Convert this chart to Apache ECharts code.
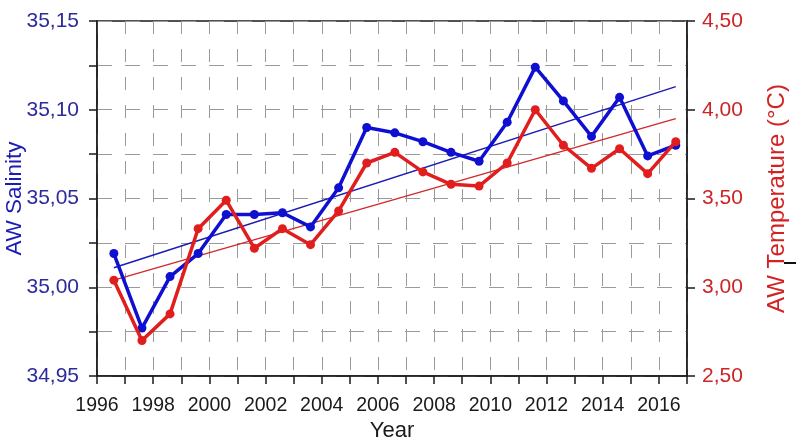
<!DOCTYPE html>
<html>
<head>
<meta charset="utf-8">
<script src="https://cdn.jsdelivr.net/npm/echarts@6/dist/echarts.min.js"></script>
<style>
  html, body { margin: 0; padding: 0; background: #fff; }
  #chart { width: 796px; height: 442px; }
</style>
</head>
<body>
<div id="chart"></div>
<script>
// Sampling times (decimal years) of the annual Atlantic Water means
const years = [1996.6, 1997.6, 1998.6, 1999.6, 2000.6, 2001.6, 2002.6, 2003.6, 2004.6, 2005.6,
               2006.6, 2007.6, 2008.6, 2009.6, 2010.6, 2011.6, 2012.6, 2013.6, 2014.6, 2015.6, 2016.6];

// AW salinity (left axis)
const salinity = [35.019, 34.977, 35.006, 35.019, 35.041, 35.041, 35.042, 35.034, 35.056, 35.090,
                  35.087, 35.082, 35.076, 35.071, 35.093, 35.124, 35.105, 35.085, 35.107, 35.074, 35.080];

// AW temperature, °C (right axis)
const temperature = [3.04, 2.70, 2.85, 3.33, 3.49, 3.22, 3.33, 3.24, 3.43, 3.70,
                     3.76, 3.65, 3.58, 3.57, 3.70, 4.00, 3.80, 3.67, 3.78, 3.64, 3.82];

// Linear trend end points
const trendYears = [1996.6, 2016.6];
const salinityTrend = [35.011, 35.113];
const temperatureTrend = [3.04, 3.95];

const FONT = 'Liberation Sans, Arial, sans-serif';
const BLUE = '#0f0fd2';
const RED = '#e01e1e';

const pair = (xs, ys) => xs.map((x, i) => [x, ys[i]]);
const comma = (v, d) => v.toFixed(d).replace('.', ',');

const chart = echarts.init(document.getElementById('chart'), null, { renderer: 'canvas' });

chart.setOption({
  animation: false,
  backgroundColor: '#fff',
  grid: {
    left: 97, right: 109, top: 21, bottom: 66,
    outerBoundsMode: 'none',
    containLabel: false,
    show: true, borderColor: '#1a1a1a', borderWidth: 1.5, backgroundColor: 'transparent'
  },
  xAxis: {
    type: 'value',
    min: 1996, max: 2017, interval: 1,
    name: 'Year',
    nameLocation: 'middle',
    nameGap: 44,
    nameMoveOverlap: false,
    nameTextStyle: { fontFamily: FONT, fontSize: 22, color: '#1a1a1a' },
    axisLine: { show: true, onZero: false, lineStyle: { color: '#1a1a1a', width: 1.5 } },
    axisTick: { show: true, length: 8, lineStyle: { color: '#1a1a1a', width: 1.5 } },
    axisLabel: {
      fontFamily: FONT, fontSize: 19.5, color: '#1a1a1a', margin: 20,
      formatter: v => (Math.round(v) % 2 === 0 ? String(Math.round(v)) : '')
    },
    splitLine: { show: true, lineStyle: { color: '#9a9a9a', width: 1, type: [13, 15] } }
  },
  yAxis: [
    {
      type: 'value',
      position: 'left',
      min: 34.95, max: 35.15, interval: 0.025,
      name: 'AW Salinity',
      nameLocation: 'middle',
      nameGap: 71,
      nameMoveOverlap: false,
      nameRotate: 90,
      nameTextStyle: { fontFamily: FONT, fontSize: 22.5, color: '#1c1cb4' },
      axisLine: { show: true, onZero: false, lineStyle: { color: '#1a1a1a', width: 1.5 } },
      axisTick: { show: true, length: 8, lineStyle: { color: '#1a1a1a', width: 1.5 } },
      axisLabel: {
        fontFamily: FONT, fontSize: 21, color: '#2b2b9c', margin: 18,
        formatter: v => (Math.round(v * 1000) % 50 === 0 ? comma(v, 2) : '')
      },
      splitLine: { show: true, lineStyle: { color: '#9a9a9a', width: 1, type: [15, 13] } }
    },
    {
      type: 'value',
      position: 'right',
      min: 2.5, max: 4.5, interval: 0.5,
      name: 'AW Temperature (°C)',
      nameLocation: 'middle',
      nameGap: 78,
      nameMoveOverlap: false,
      nameRotate: 90,
      nameTextStyle: { fontFamily: FONT, fontSize: 24, color: '#d42222' },
      axisLine: { show: true, onZero: false, lineStyle: { color: '#1a1a1a', width: 1.5 } },
      axisTick: { show: true, length: 8, lineStyle: { color: '#1a1a1a', width: 1.5 } },
      axisLabel: {
        fontFamily: FONT, fontSize: 21, color: '#cc2424', margin: 15,
        formatter: v => comma(v, 2)
      },
      splitLine: { show: false }
    }
  ],
  series: [
    {
      name: 'Salinity trend',
      type: 'line',
      yAxisIndex: 0,
      data: pair(trendYears, salinityTrend),
      symbol: 'none',
      lineStyle: { color: '#1a1ab4', width: 1.4 },
      z: 3
    },
    {
      name: 'Temperature trend',
      type: 'line',
      yAxisIndex: 1,
      data: pair(trendYears, temperatureTrend),
      symbol: 'none',
      lineStyle: { color: '#d02a2a', width: 1.4 },
      z: 3
    },
    {
      name: 'AW Salinity',
      type: 'line',
      yAxisIndex: 0,
      data: pair(years, salinity),
      symbol: 'circle',
      symbolSize: 9,
      itemStyle: { color: BLUE },
      lineStyle: { color: BLUE, width: 3.5 },
      z: 4
    },
    {
      name: 'AW Temperature',
      type: 'line',
      yAxisIndex: 1,
      data: pair(years, temperature),
      symbol: 'circle',
      symbolSize: 9,
      itemStyle: { color: RED },
      lineStyle: { color: RED, width: 3.5 },
      z: 5
    }
  ],
  graphic: [
    {
      type: 'line',
      shape: { x1: 784, y1: 263, x2: 796, y2: 263 },
      style: { stroke: '#111', lineWidth: 2 }
    }
  ]
});
</script>
</body>
</html>
